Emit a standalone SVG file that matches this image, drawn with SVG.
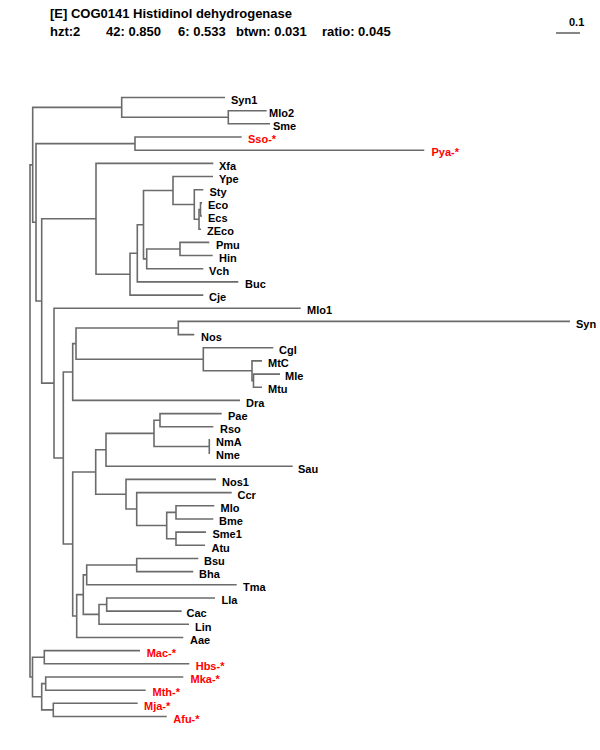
<svg xmlns="http://www.w3.org/2000/svg" width="600" height="750" viewBox="0 0 600 750">
<style>
text{font-family:"Liberation Sans",Arial,sans-serif;font-weight:bold;font-size:11px;fill:#000}
.h{font-size:13px}
.r{fill:#ff0000}
#connectors path{fill:none;stroke:#6b6b6b;stroke-width:1.6}
</style>
<rect width="600" height="750" fill="#fff"/>
<g id="header">
<text class="h" x="50" y="18">[E] COG0141 Histidinol dehydrogenase</text>
<text class="h" x="50" y="36">hzt:2</text>
<text class="h" x="106" y="36">42: 0.850</text>
<text class="h" x="178" y="36">6: 0.533</text>
<text class="h" x="236" y="36">btwn: 0.031</text>
<text class="h" x="322" y="36">ratio: 0.045</text>
</g>
<g id="scale">
<text x="569" y="26">0.1</text>
<path d="M556 33H580" stroke="#333" stroke-width="1.2"/>
</g>
<g id="connectors">
<path d="M266.7 110.7H228.3V123.8H270"/>
<path d="M225 97.5H121.7V117.25H228.3"/>
<path d="M241.7 137H135V150.2H424.3"/>
<path d="M202 202.9H200.5V216H202"/>
<path d="M200.5 209.45H199V229.2H201"/>
<path d="M203.3 189.7H194.3V219.3H199"/>
<path d="M213 176.5H173V204.5H194.3"/>
<path d="M209.3 242.4H180V255.5H212.7"/>
<path d="M180 249H146.7V268.7H203.3"/>
<path d="M173 190.5H143.5V258.85H146.7"/>
<path d="M143.5 224.7H137.3V281.9H238.3"/>
<path d="M137.3 253.3H130V295.1H203.3"/>
<path d="M213.3 163.4H96V274.2H130"/>
<path d="M570 321.4H178.3V334.6H194.3"/>
<path d="M280 374.1H253.5V387.2H262"/>
<path d="M262 360.9H252V380.65H253.5"/>
<path d="M273.3 347.7H203.3V370.8H252"/>
<path d="M178.3 328H76V359.25H203.3"/>
<path d="M76 343.6H72.7V400.4H240"/>
<path d="M221.7 413.6H160V426.8H213.3"/>
<path d="M210 439.9H209.3V453.1H210"/>
<path d="M160 420.2H154V446.5H209.3"/>
<path d="M154 433.35H106V466.3H292.7"/>
<path d="M214.3 505.8H176V519H213.3"/>
<path d="M206 532.1H176V545.3H205"/>
<path d="M176 512.4H166.7V538.7H176"/>
<path d="M231.7 492.6H136.7V525.55H166.7"/>
<path d="M216 479.4H126V509H136.7"/>
<path d="M106 449.8H95.7V494.2H126"/>
<path d="M198.3 558.5H136.7V571.6H193.3"/>
<path d="M136.7 565H86.7V584.8H236.7"/>
<path d="M215 598H106.7V611.1H181.7"/>
<path d="M106.7 604.55H99V624.3H189"/>
<path d="M86.7 574.9H83.3V614.4H99"/>
<path d="M83.3 594.65H76.7V637.5H183.3"/>
<path d="M95.7 472H72.7V616H76.7"/>
<path d="M72.7 372H63.3V544H72.7"/>
<path d="M300.7 308.2H54V458H63.3"/>
<path d="M96 218.8H41.7V383.1H54"/>
<path d="M135 143.6H36V301H41.7"/>
<path d="M121.7 107.4H32.7V222.3H36"/>
<path d="M140 650.6H44.3V663.8H189.3"/>
<path d="M183.3 677H45.7V690.2H145.7"/>
<path d="M137.7 703.3H53.3V716.5H166.7"/>
<path d="M45.7 683.6H41.7V709.9H53.3"/>
<path d="M44.3 657.2H32.5V696.75H41.7"/>
<path d="M32.7 164.9H30V677H32.5"/>
</g>
<g id="leaves">
<g id="n-Syn1"><text x="231" y="103.7">Syn1</text></g>
<g id="n-Mlo2"><text x="269" y="116.9">Mlo2</text></g>
<g id="n-Sme"><text x="273" y="130">Sme</text></g>
<g id="n-Sso"><text class="r" x="248" y="143.2">Sso-*</text></g>
<g id="n-Pya"><text class="r" x="431.5" y="156.4">Pya-*</text></g>
<g id="n-Xfa"><text x="219" y="169.6">Xfa</text></g>
<g id="n-Ype"><text x="219" y="182.7">Ype</text></g>
<g id="n-Sty"><text x="209.5" y="195.9">Sty</text></g>
<g id="n-Eco"><text x="208" y="209.1">Eco</text></g>
<g id="n-Ecs"><text x="208" y="222.2">Ecs</text></g>
<g id="n-ZEco"><text x="207" y="235.4">ZEco</text></g>
<g id="n-Pmu"><text x="216" y="248.6">Pmu</text></g>
<g id="n-Hin"><text x="219" y="261.7">Hin</text></g>
<g id="n-Vch"><text x="209" y="274.9">Vch</text></g>
<g id="n-Buc"><text x="245" y="288.1">Buc</text></g>
<g id="n-Cje"><text x="209" y="301.3">Cje</text></g>
<g id="n-Mlo1"><text x="307" y="314.4">Mlo1</text></g>
<g id="n-Syn"><text x="576" y="327.6">Syn</text></g>
<g id="n-Nos"><text x="201" y="340.8">Nos</text></g>
<g id="n-Cgl"><text x="279" y="353.9">Cgl</text></g>
<g id="n-MtC"><text x="268" y="367.1">MtC</text></g>
<g id="n-Mle"><text x="285" y="380.3">Mle</text></g>
<g id="n-Mtu"><text x="268" y="393.4">Mtu</text></g>
<g id="n-Dra"><text x="246" y="406.6">Dra</text></g>
<g id="n-Pae"><text x="228" y="419.8">Pae</text></g>
<g id="n-Rso"><text x="220" y="433">Rso</text></g>
<g id="n-NmA"><text x="216" y="446.1">NmA</text></g>
<g id="n-Nme"><text x="216" y="459.3">Nme</text></g>
<g id="n-Sau"><text x="298" y="472.5">Sau</text></g>
<g id="n-Nos1"><text x="222" y="485.6">Nos1</text></g>
<g id="n-Ccr"><text x="237.5" y="498.8">Ccr</text></g>
<g id="n-Mlo"><text x="220.5" y="512">Mlo</text></g>
<g id="n-Bme"><text x="219" y="525.2">Bme</text></g>
<g id="n-Sme1"><text x="212.5" y="538.3">Sme1</text></g>
<g id="n-Atu"><text x="211.5" y="551.5">Atu</text></g>
<g id="n-Bsu"><text x="204" y="564.7">Bsu</text></g>
<g id="n-Bha"><text x="199" y="577.8">Bha</text></g>
<g id="n-Tma"><text x="243" y="591">Tma</text></g>
<g id="n-Lla"><text x="221.5" y="604.2">Lla</text></g>
<g id="n-Cac"><text x="186.5" y="617.3">Cac</text></g>
<g id="n-Lin"><text x="195" y="630.5">Lin</text></g>
<g id="n-Aae"><text x="190" y="643.7">Aae</text></g>
<g id="n-Mac"><text class="r" x="146.7" y="656.8">Mac-*</text></g>
<g id="n-Hbs"><text class="r" x="195.7" y="670">Hbs-*</text></g>
<g id="n-Mka"><text class="r" x="190.5" y="683.2">Mka-*</text></g>
<g id="n-Mth"><text class="r" x="152.5" y="696.4">Mth-*</text></g>
<g id="n-Mja"><text class="r" x="144" y="709.5">Mja-*</text></g>
<g id="n-Afu"><text class="r" x="173.3" y="722.7">Afu-*</text></g>
</g>
</svg>
